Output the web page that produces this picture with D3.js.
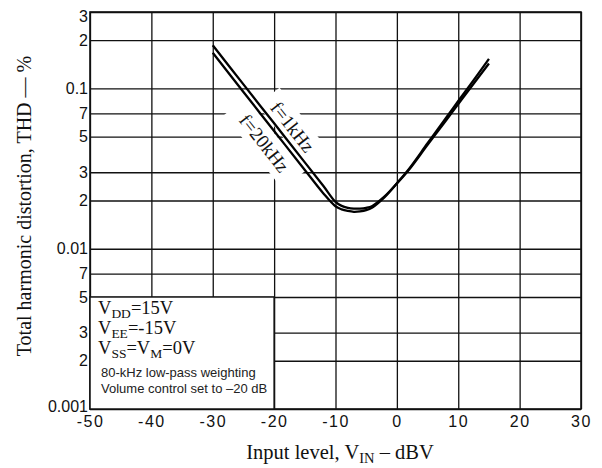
<!DOCTYPE html>
<html>
<head>
<script src="https://d3js.org/d3.v7.min.js"></script>
<style>
  body { margin: 0; background: #fff; }
  .tick-label { font-family: "Liberation Sans", Arial, sans-serif; font-size: 16px; fill: #111; }
  .serif { font-family: "Liberation Serif", "Times New Roman", serif; fill: #111; }
  .sans { font-family: "Liberation Sans", Arial, sans-serif; fill: #222; }
</style>
</head>
<body>
<svg id="chart" width="602" height="468"></svg>

<script>
// ticks
const xTicks = [-50, -40, -30, -20, -10, 0, 10, 20, 30];
const xTickLabels = ["-50", "-40", "-30", "-20", "-10", "0", "10", "20", "30"];
const yTicks = [0.3, 0.2, 0.1, 0.07, 0.05, 0.03, 0.02, 0.01, 0.007, 0.005, 0.003, 0.002, 0.001];
const yTickLabels = ["3", "2", "0.1", "7", "5", "3", "2", "0.01", "7", "5", "3", "2", "0.001"];

// curves (input level in dBV, THD in %)
const inputLevel = [-30, -25, -20, -15, -12, -10, -9, -8, -7, -6, -5, -4, -2, 0, 2, 5, 8, 10, 12, 15];
const thd1k  = [0.186, 0.106, 0.0606, 0.0346, 0.0247, 0.0196, 0.0185, 0.0180, 0.0178, 0.0178,
                0.0180, 0.0185, 0.0212, 0.0255, 0.0312, 0.0445, 0.0630, 0.0800, 0.101, 0.143];
const thd20k = [0.167, 0.095, 0.0543, 0.031, 0.0222, 0.0184, 0.0176, 0.0172, 0.0170, 0.0171,
                0.0174, 0.0181, 0.0210, 0.0256, 0.0316, 0.0455, 0.0655, 0.0835, 0.106, 0.153];

const svg = d3.select("#chart");
const margin = { top: 12, right: 21, bottom: 59, left: 90 };
const width = 602 - margin.left - margin.right;
const height = 468 - margin.top - margin.bottom;

const x = d3.scaleLinear().domain([-50, 30]).range([0, width]);
const y = d3.scaleLog().domain([0.001, 0.3]).range([height, 0]);

const g = svg.append("g")
    .attr("transform", `translate(${margin.left},${margin.top})`);

// grid
g.append("g")
    .attr("transform", `translate(0,${height})`)
    .call(d3.axisBottom(x).tickValues(xTicks).tickSize(height).tickFormat(""))
    .call(a => a.select(".domain").remove())
    .selectAll("line")
    .attr("transform", `translate(0,${-height})`)
    .attr("stroke", "#111").attr("stroke-width", 1.3);

g.append("g")
    .call(d3.axisLeft(y).tickValues(yTicks).tickSize(-width).tickFormat(""))
    .call(a => a.select(".domain").remove())
    .selectAll("line")
    .attr("stroke", "#111").attr("stroke-width", 1.3);

// tick labels
g.append("g")
    .attr("transform", `translate(0,${height})`)
    .call(d3.axisBottom(x).tickValues(xTicks).tickSize(0).tickPadding(7)
        .tickFormat((d, i) => xTickLabels[i]))
    .call(a => a.select(".domain").remove())
    .selectAll("text")
    .attr("class", "tick-label")
    .style("letter-spacing", "1.5px");

g.append("g")
    .call(d3.axisLeft(y).tickValues(yTicks).tickSize(0).tickPadding(2)
        .tickFormat((d, i) => yTickLabels[i]))
    .call(a => a.select(".domain").remove())
    .selectAll("text")
    .attr("class", "tick-label")
    .attr("y", (d, i) => i === 0 ? 4 : (i === yTicks.length - 1 ? -3 : 0));

// plot frame
g.append("rect")
    .attr("width", width).attr("height", height)
    .attr("fill", "none").attr("stroke", "#111").attr("stroke-width", 1.6);

// white patches behind the curve labels
const labels = [
    { text: "f=1kHz", x: -17.0, y: 0.0575, w: 78, h: 28 },
    { text: "f=20kHz", x: -21.6, y: 0.0455, w: 94, h: 28 }
];
const angle = 52;

labels.forEach(l => {
    g.append("rect")
        .attr("x", -l.w / 2).attr("y", -l.h / 2)
        .attr("width", l.w).attr("height", l.h)
        .attr("fill", "#fff")
        .attr("transform", `translate(${x(l.x)},${y(l.y)}) rotate(${angle})`);
});

// curves
const line = d3.line()
    .x((d, i) => x(inputLevel[i]))
    .y(d => y(d))
    .curve(d3.curveCatmullRom.alpha(0.5));

[thd1k, thd20k].forEach(s => {
    g.append("path")
        .datum(s)
        .attr("d", line)
        .attr("fill", "none")
        .attr("stroke", "#000")
        .attr("stroke-width", 2.3);
});

labels.forEach(l => {
    g.append("text")
        .attr("class", "serif")
        .attr("text-anchor", "middle")
        .attr("dominant-baseline", "central")
        .attr("font-size", 19)
        .attr("transform", `translate(${x(l.x)},${y(l.y)}) rotate(${angle})`)
        .text(l.text);
});

// conditions box
const bx = x(-50), by = y(0.005), bw = x(-20) - x(-50), bh = y(0.001) - y(0.005);
g.append("rect")
    .attr("x", bx).attr("y", by).attr("width", bw).attr("height", bh)
    .attr("fill", "#fff").attr("stroke", "#111").attr("stroke-width", 1.5);

const cond = [
    ["V", "DD", "=15V"],
    ["V", "EE", "=-15V"],
    ["V", "SS", "=V", "M", "=0V"]
];
cond.forEach((parts, i) => {
    const t = g.append("text")
        .attr("class", "serif")
        .attr("font-size", 18.5)
        .attr("x", bx + 8)
        .attr("y", by + 17.5 + i * 20);
    parts.forEach((p, j) => {
        const sub = j % 2 === 1;
        t.append("tspan")
            .attr("font-size", sub ? 13.5 : 18.5)
            .attr("dy", j === 0 ? 0 : (sub ? 4 : -4))
            .text(p);
    });
});

const notes = ["80-kHz low-pass weighting", "Volume control set to \u201320 dB"];
notes.forEach((n, i) => {
    g.append("text")
        .attr("class", "sans")
        .attr("font-size", 13)
        .attr("x", bx + 11)
        .attr("y", by + 80.5 + i * 15.5)
        .text(n);
});

// axis titles
svg.append("text")
    .attr("class", "serif")
    .attr("font-size", 20)
    .attr("text-anchor", "middle")
    .attr("transform", "translate(31,206) rotate(-90)")
    .text("Total harmonic distortion, THD \u2014 %");

const xt = svg.append("text")
    .attr("class", "serif")
    .attr("font-size", 20.5)
    .attr("text-anchor", "middle")
    .attr("x", 340)
    .attr("y", 459);
xt.append("tspan").text("Input level, V");
xt.append("tspan").attr("font-size", 14.5).attr("dy", 4).text("IN");
xt.append("tspan").attr("dy", -4).text(" \u2013 dBV");
</script>

</body>
</html>
